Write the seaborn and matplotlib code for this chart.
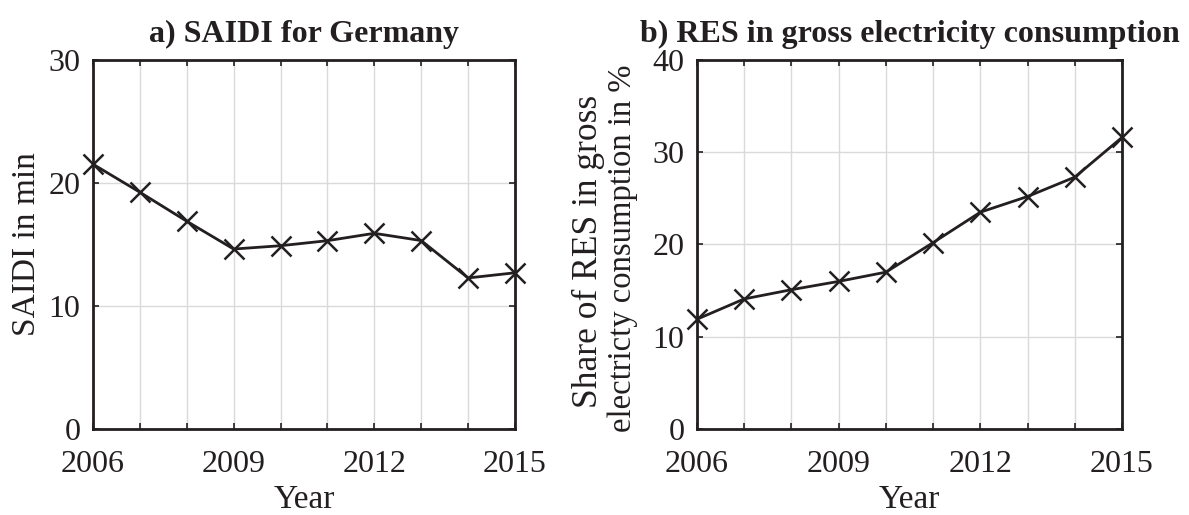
import numpy as np
import pandas as pd
import seaborn as sns
import matplotlib.pyplot as plt

# --------------------------------------------------------------
# Data
# --------------------------------------------------------------
years = [2006, 2007, 2008, 2009, 2010, 2011, 2012, 2013, 2014, 2015]
saidi_min = [21.53, 19.25, 16.89, 14.63, 14.90, 15.31, 15.91, 15.32, 12.28, 12.70]
res_share = [11.9, 14.1, 15.1, 16.0, 17.0, 20.2, 23.5, 25.2, 27.3, 31.6]
year_labels = ['2006', '', '', '2009', '', '', '2012', '', '', '2015']

sns.set_style('ticks')
plt.rcParams['font.family'] = ['Liberation Serif', 'DejaVu Serif']

df = pd.DataFrame({'Year': years, 'SAIDI': saidi_min, 'RES': res_share})

fig = plt.figure(figsize=(11.89, 5.15), dpi=100)
ax1 = fig.add_axes([0.0782, 0.1670, 0.3549, 0.7165])
ax2 = fig.add_axes([0.5862, 0.1670, 0.3574, 0.7165])

INK = '#231f20'


def style_axis(ax, ymax, title):
    ax.set_xlim(2006, 2015)
    ax.set_ylim(0, ymax)
    ax.set_xticks(years)
    ax.set_xticklabels(year_labels)
    ax.set_yticks(np.arange(0, ymax + 1, 10))
    ax.grid(True, color='#dadada', linewidth=1.0)
    ax.set_axisbelow(True)
    ax.tick_params(direction='in', length=4, width=1.2, top=True, right=True,
                   labelsize=23, colors=INK)
    ax.tick_params(axis='x', pad=15)
    ax.tick_params(axis='y', pad=9)
    for sp in ax.spines.values():
        sp.set_visible(True)
        sp.set_linewidth(2.0)
        sp.set_color(INK)
    ax.set_xlabel('Year', fontsize=24, color=INK, labelpad=4)
    ax.set_title(title, fontsize=23, fontweight='bold', color=INK, pad=13)


# a) SAIDI
sns.lineplot(data=df, x='Year', y='SAIDI', ax=ax1, color=INK,
             linewidth=2, marker='x', markersize=14, markeredgewidth=1.8,
             markeredgecolor=INK, clip_on=False)
style_axis(ax1, 30, 'a) SAIDI for Germany')
ax1.set_ylabel('SAIDI in min', fontsize=24, color=INK, labelpad=5)

# b) RES share
sns.lineplot(data=df, x='Year', y='RES', ax=ax2, color=INK,
             linewidth=2, marker='x', markersize=14, markeredgewidth=1.8,
             markeredgecolor=INK, clip_on=False)
style_axis(ax2, 40, 'b) RES in gross electricity consumption')
ax2.set_ylabel('')
# two-line label: first line slightly larger than the second, as in the reference
# positions given in pixels from the top-left of the figure
ylab_lines = [('Share of RES in gross', 588, 251, 25.5),
              ('electricty consumption in %', 623, 248, 23.5)]
for txt, px, py, fs in ylab_lines:
    fig.text(px / 1189, 1 - py / 515, txt, rotation=90, fontsize=fs,
             color=INK, ha='center', va='center')

fig.savefig('out.png', dpi=100)
